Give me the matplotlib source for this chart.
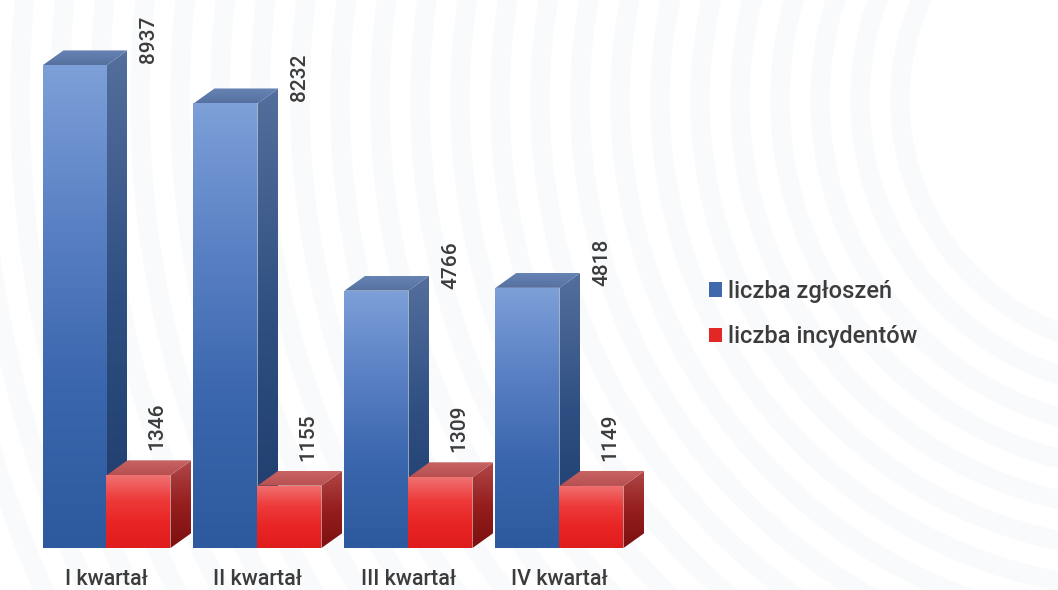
import numpy as np
import matplotlib
matplotlib.use("Agg")
import matplotlib.pyplot as plt
from matplotlib.patches import Polygon, Patch, Circle
from matplotlib.colors import LinearSegmentedColormap

# ---------------- data ----------------
quarters = ["I kwartał", "II kwartał", "III kwartał", "IV kwartał"]
zgloszenia = [8937, 8232, 4766, 4818]
incydenty = [1346, 1155, 1309, 1149]
series_names = ["liczba zgłoszeń", "liczba incydentów"]

FONT = ["Roboto", "DejaVu Sans"]
TXT = "#3c3c3c"

W, H = 1058, 590
fig = plt.figure(figsize=(W / 100, H / 100), dpi=100)
fig.patch.set_facecolor("white")

# ---------------- faint decorative arcs ----------------
bg = fig.add_axes([0, 0, 1, 1], zorder=0)
bg.set_xlim(0, W)
bg.set_ylim(H, 0)
bg.axis("off")
for r in np.arange(250, 1250, 40):
    bg.add_patch(Circle((1150, 100), r, fill=False, lw=14, ec="#f9fafc"))

# ---------------- main axes ----------------
base_px = 548
px_per_unit = 0.054
grp_px = 151.0
grp0_px = 106.5
ax = fig.add_axes([0, (H - base_px) / H, 1, base_px / H], zorder=1)
ax.patch.set_alpha(0)
ax.set_xlim(-grp0_px / grp_px, (W - grp0_px) / grp_px)
ax.set_ylim(0, base_px / px_per_unit)
for s in ax.spines.values():
    s.set_visible(False)
ax.tick_params(axis="both", length=0)
ax.set_yticks([])

x = np.arange(len(quarters))
w = 64 / grp_px
dx = 21 / grp_px
dy = 15 / px_per_unit


def grad_poly(verts, colors, z, clip=None):
    verts = np.asarray(verts)
    if clip is None:
        clip = Polygon(verts, closed=True, fc="none", ec="none", zorder=z)
        ax.add_patch(clip)
    cmap = LinearSegmentedColormap.from_list("g", colors[::-1])
    grad = np.linspace(0, 1, 256).reshape(-1, 1)
    im = ax.imshow(grad, cmap=cmap, origin="lower", aspect="auto",
                   extent=[verts[:, 0].min(), verts[:, 0].max(),
                           verts[:, 1].min(), verts[:, 1].max()],
                   interpolation="bicubic", zorder=z)
    im.set_clip_path(clip)


# colours listed top -> bottom
styles = [
    dict(front=["#7da0d8", "#5a80c4", "#3a66ad", "#2d5a9e"],
         side=["#546f9d", "#2f4f82", "#1d3b6b"],
         top=["#6683b5", "#56719f"]),
    dict(front=["#f07272", "#ee3a3a", "#e82424", "#e01d1d"],
         side=["#b04848", "#961e1e", "#7c1010"],
         top=["#c86464", "#b85050"]),
]

series = [zgloszenia, incydenty]
offsets = [-w, 0.0]
for si, (vals, off, st) in enumerate(zip(series, offsets, styles)):
    bars = ax.bar(x + off, vals, w, align="edge", fc="none", ec="none",
                  zorder=3 + si * 3)
    for b in bars:
        x0, y0 = b.get_x(), b.get_y()
        bw, bh = b.get_width(), b.get_height()
        z = 3 + si * 3
        side = [(x0 + bw, y0), (x0 + bw + dx, y0 + dy),
                (x0 + bw + dx, y0 + bh + dy), (x0 + bw, y0 + bh)]
        grad_poly(side, st["side"], z)
        top = [(x0, y0 + bh), (x0 + bw, y0 + bh),
               (x0 + bw + dx, y0 + bh + dy), (x0 + dx, y0 + bh + dy)]
        grad_poly(top, st["top"], z + 1)
        front = [(x0, y0), (x0 + bw, y0), (x0 + bw, y0 + bh), (x0, y0 + bh)]
        grad_poly(front, st["front"], z + 2, clip=b)

# value labels
for i in range(len(quarters)):
    ax.text(x[i] + 0.28, zgloszenia[i] + 2 / px_per_unit, f"{zgloszenia[i]}",
            rotation=90, ha="center", va="bottom", fontsize=15, color=TXT,
            family=FONT, fontweight="medium", zorder=10)
    ax.text(x[i] + 0.335, incydenty[i] + 25 / px_per_unit, f"{incydenty[i]}",
            rotation=90, ha="center", va="bottom", fontsize=15, color=TXT,
            family=FONT, fontweight="medium", zorder=10)

ax.set_xticks(x)
ax.set_xticklabels(quarters, fontsize=15.5, color=TXT, family=FONT,
                   fontweight="medium")
ax.tick_params(axis="x", pad=15)

handles = [Patch(fc="#3f68ad", ec="none"), Patch(fc="#e32626", ec="none")]
leg = fig.legend(handles, series_names, loc="center left",
                 bbox_to_anchor=(688 / W, 1 - 314 / H), frameon=False,
                 handlelength=0.55, handleheight=0.55, handletextpad=0.25,
                 labelspacing=0.95,
                 prop=dict(family=FONT, size=17, weight="medium"))
for t in leg.get_texts():
    t.set_color(TXT)

fig.savefig("out.png", dpi=100, facecolor="white")
